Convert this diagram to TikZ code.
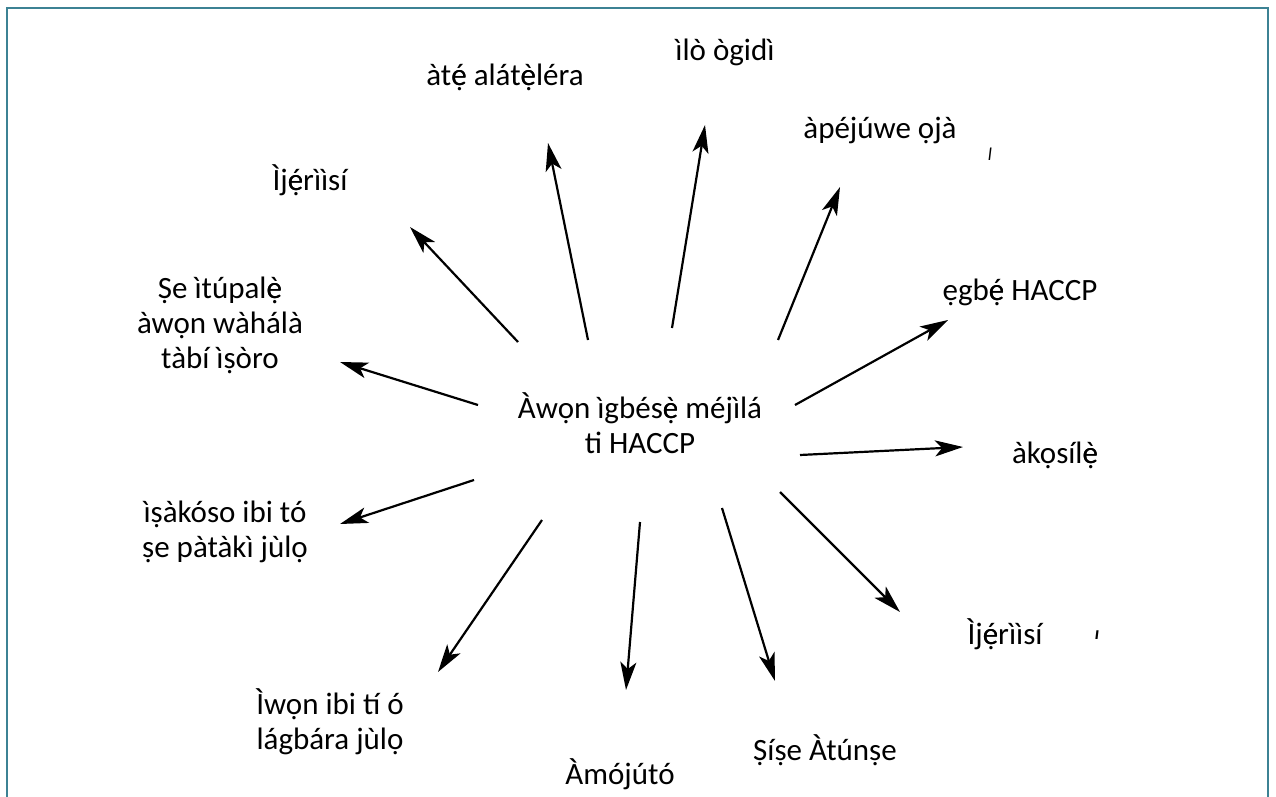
\documentclass[tikz,border=0pt]{standalone}
\usepackage{fontspec}
\setmainfont{Carlito}
\usetikzlibrary{arrows.meta}
\definecolor{frame}{RGB}{60,130,148}
\newcommand{\ea}{{\ooalign{ẹ\cr é\cr}}}
\newcommand{\eg}{{\ooalign{ẹ\cr è\cr}}}
\begin{document}
\begin{tikzpicture}[x=1pt,y=-1pt,
  lbl/.style={font=\fontsize{31}{35}\selectfont, align=center, inner sep=0pt},
  arr/.style={line width=2.2pt, -{Stealth[length=28pt,width=16pt,inset=7pt]}},
  stray/.style={font=\fontsize{18}{18}\selectfont\itshape, inner sep=0pt}]
\useasboundingbox (0,0) rectangle (1276,797);
\draw[frame, line width=2pt] (7,797) -- (7,8) -- (1268,8) -- (1268,797);
% centre
\node[lbl] (c) at (640,423) {Àwọn ìgbés\eg{} méjìlá\\ti HACCP};
% labels
\node[lbl] (n1) at (505,75) {àt\ea{} alát\eg léra};
\node[lbl] (n2) at (725,52) {ìlò ògidì};
\node[lbl] (n3) at (880,130) {àpéjúwe ọjà};
\node[lbl] (n4) at (1020,292) {ẹgb\ea{} HACCP};
\node[lbl] (n5) at (1055,455) {àkọsíl\eg};
\node[lbl] (n6) at (1005,634) {Ìj\ea rììsí};
\node[lbl] (n7) at (825,750) {Ṣíṣe Àtúnṣe};
\node[lbl] (n8) at (620,774) {Àmójútó};
\node[lbl] (n9) at (330,722) {Ìwọn ibi tí ó\\lágbára jùlọ};
\node[lbl] (n10) at (225,532) {ìṣàkóso ibi tó\\ṣe pàtàkì jùlọ};
\node[lbl] (n11) at (220,325) {Ṣe ìtúpal\eg\\àwọn wàhálà\\tàbí ìṣòro};
\node[lbl] (n12) at (310,180) {Ìj\ea rììsí};
% stray marks
\node[stray] (s1) at (990,154) {l};
\node[stray, font=\fontsize{18}{18}\selectfont\bfseries\itshape] (s2) at (1097,635) {ı};
% arrow anchors
\coordinate (a1s) at (588,340); \coordinate (a1e) at (548,143);
\coordinate (a2s) at (672,328); \coordinate (a2e) at (705,125);
\coordinate (a3s) at (778,340); \coordinate (a3e) at (840,187);
\coordinate (a4s) at (795,405); \coordinate (a4e) at (948,320);
\coordinate (a5s) at (800,455); \coordinate (a5e) at (963,447);
\coordinate (a6s) at (780,492); \coordinate (a6e) at (900,612);
\coordinate (a7s) at (722,508); \coordinate (a7e) at (775,681);
\coordinate (a8s) at (640,522); \coordinate (a8e) at (626,690);
\coordinate (a9s) at (542,520); \coordinate (a9e) at (438,672);
\coordinate (a10s) at (474,480); \coordinate (a10e) at (340,524);
\coordinate (a11s) at (478,405); \coordinate (a11e) at (340,362);
\coordinate (a12s) at (518,342); \coordinate (a12e) at (410,227);
\foreach \i in {1,...,12} {\draw[arr] (a\i s) -- (a\i e);}
\end{tikzpicture}
\end{document}
